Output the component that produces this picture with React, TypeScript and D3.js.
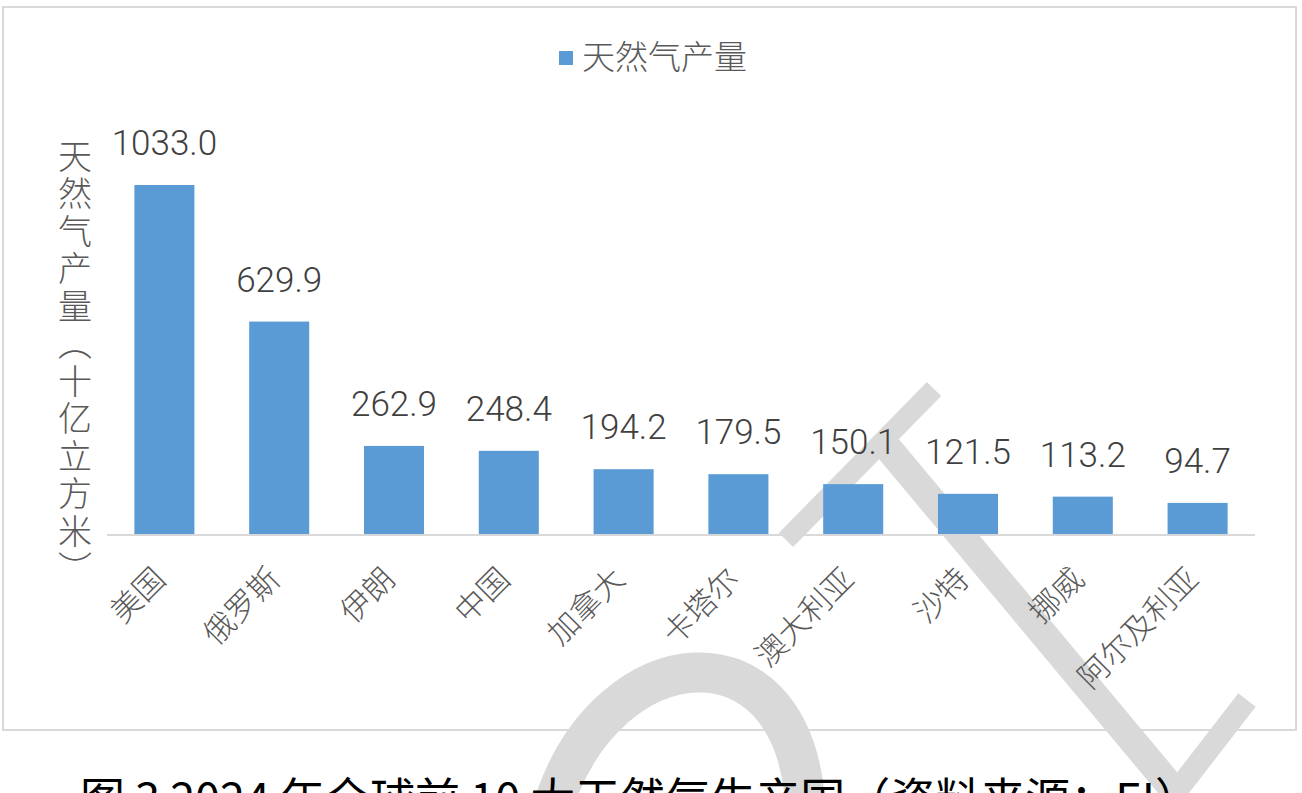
import { useEffect, useRef } from "react";
import * as d3 from "d3";

const countries = ["美国", "俄罗斯", "伊朗", "中国", "加拿大", "卡塔尔", "澳大利亚", "沙特", "挪威", "阿尔及利亚"];
const production = [1033.0, 629.9, 262.9, 248.4, 194.2, 179.5, 150.1, 121.5, 113.2, 94.7];
const seriesName = "天然气产量";
const yTitle = "天然气产量（十亿立方米）";
const caption = "图 3 2024 年全球前 10 大天然气生产国（资料来源：EI）";

const FONT = "'Noto Sans CJK SC', 'Noto Sans', sans-serif";
const NUM_FONT = "Roboto, 'Noto Sans', sans-serif";

export default function App() {
  const svgRef = useRef<SVGSVGElement>(null);

  useEffect(() => {
    const svg = d3.select(svgRef.current);
    svg.selectAll("*").remove();

    const width = 1302;
    const height = 793;
    const plot = { left: 107, right: 1255, top: 128.4, bottom: 535 };

    svg.attr("width", width).attr("height", height);

    // watermark strokes behind the chart
    const wm = svg.append("g").attr("fill", "none").attr("stroke", "#d9d9d9");
    wm.append("path").attr("d", "M555,800 C610,640 790,620 805,800").attr("stroke-width", 40);
    wm.append("path").attr("d", "M883,442 L1178,795").attr("stroke-width", 28);
    wm.append("path").attr("d", "M1247,700 L1172,797").attr("stroke-width", 22);
    wm.append("path").attr("d", "M934,389 L786,540").attr("stroke-width", 20);

    // chart frame
    svg.append("rect")
      .attr("x", 3).attr("y", 7)
      .attr("width", 1293).attr("height", 723)
      .attr("fill", "none")
      .attr("stroke", "#d9d9d9")
      .attr("stroke-width", 2);

    const data = countries.map((c, i) => ({ name: c, value: production[i] }));

    const x = d3.scaleBand()
      .domain(countries)
      .range([plot.left, plot.right])
      .paddingInner(0.477)
      .paddingOuter(0.2385);

    const y = d3.scaleLinear()
      .domain([0, 1200])
      .range([plot.bottom, plot.top]);

    // bars
    svg.append("g")
      .selectAll("rect")
      .data(data)
      .enter()
      .append("rect")
      .attr("x", d => x(d.name)!)
      .attr("y", d => y(d.value))
      .attr("width", x.bandwidth())
      .attr("height", d => y(0) - y(d.value))
      .attr("fill", "#5b9bd5");

    // category axis line
    svg.append("line")
      .attr("x1", plot.left).attr("x2", plot.right)
      .attr("y1", plot.bottom).attr("y2", plot.bottom)
      .attr("stroke", "#d9d9d9")
      .attr("stroke-width", 2);

    // value labels
    svg.append("g")
      .selectAll("text")
      .data(data)
      .enter()
      .append("text")
      .attr("x", d => x(d.name)! + x.bandwidth() / 2)
      .attr("y", d => y(d.value) - 30)
      .attr("text-anchor", "middle")
      .attr("font-family", NUM_FONT)
      .attr("font-weight", 300)
      .attr("font-size", 35)
      .attr("fill", "#404040")
      .text(d => d.value.toFixed(1));

    // rotated category labels
    svg.append("g")
      .selectAll("text")
      .data(countries)
      .enter()
      .append("text")
      .attr("transform", d => `translate(${x(d)! + x.bandwidth() / 2 + 3},581) rotate(-45)`)
      .attr("text-anchor", "end")
      .attr("font-family", FONT)
      .attr("font-weight", 300)
      .attr("font-size", 31)
      .attr("fill", "#595959")
      .text(d => d);

    // y axis title, stacked vertically
    svg.append("text")
      .attr("x", 75)
      .attr("y", 364)
      .attr("text-anchor", "middle")
      .attr("font-family", FONT)
      .attr("font-weight", 300)
      .attr("font-size", 34)
      .attr("letter-spacing", 3.5)
      .attr("fill", "#595959")
      .style("writing-mode", "vertical-rl")
      .text(yTitle);

    // legend
    const legend = svg.append("g");
    legend.append("rect")
      .attr("x", 559).attr("y", 51)
      .attr("width", 14).attr("height", 14)
      .attr("fill", "#5b9bd5");
    legend.append("text")
      .attr("x", 582).attr("y", 69)
      .attr("font-family", FONT)
      .attr("font-weight", 300)
      .attr("font-size", 33)
      .attr("fill", "#595959")
      .text(seriesName);

    // figure caption (cut off by the page edge, as in the source image)
    svg.append("text")
      .attr("x", 80).attr("y", 816)
      .attr("font-family", FONT)
      .attr("font-size", 45)
      .attr("fill", "#000000")
      .text(caption);
  }, []);

  return (
    <svg
      ref={svgRef}
      style={{ position: "absolute", left: 0, top: 0, display: "block", background: "#ffffff" }}
    />
  );
}
